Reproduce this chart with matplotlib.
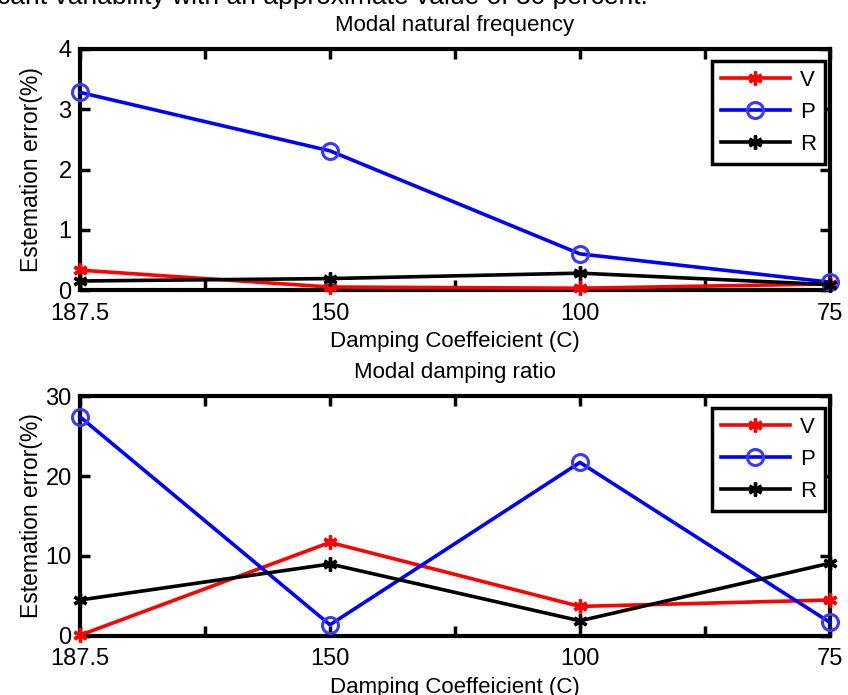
import matplotlib
matplotlib.use('Agg')
import matplotlib.pyplot as plt

plt.rcParams['font.family'] = ['Liberation Sans', 'DejaVu Sans']

# damping coefficients (x categories) and estimation errors in %
damping = ['187.5', '150', '100', '75']

freq_V = [0.33, 0.05, 0.03, 0.10]
freq_P = [3.28, 2.31, 0.60, 0.13]
freq_R = [0.15, 0.19, 0.28, 0.09]

damp_V = [0.1, 11.7, 3.7, 4.5]
damp_P = [27.4, 1.4, 21.7, 1.7]
damp_R = [4.5, 9.0, 1.9, 9.1]

FS = 16
asterisk = (6, 2, 0)


def draw_panel(ax, v, p, r, title, ymax, ystep):
    x = list(range(1, len(damping) + 1))
    ax.plot(x, v, color='red', lw=2.6, marker=asterisk, ms=10, mew=2.4,
            label='V', clip_on=False, zorder=5)
    ax.plot(x, p, color='blue', lw=2.6, marker='o', ms=11.5, mew=2.2,
            mfc='none', mec='#3a3aff', label='P', clip_on=False, zorder=5)
    ax.plot(x, r, color='black', lw=2.6, marker=asterisk, ms=10, mew=2.4,
            label='R', clip_on=False, zorder=5)

    ax.set_xlim(1, len(damping))
    ax.set_ylim(0, ymax)
    # ticks every half step, labels only on the data points
    xt = [1 + 0.5 * i for i in range(2 * len(damping) - 1)]
    ax.set_xticks(xt)
    ax.set_xticklabels([damping[i // 2] if i % 2 == 0 else '' for i in range(len(xt))])
    ax.set_yticks(range(0, ymax + 1, ystep))
    ax.tick_params(direction='in', length=7, width=2.5, top=True, right=True,
                   labelsize=17)
    ax.tick_params(axis='x', pad=9)
    ax.tick_params(axis='y', pad=6)
    for s in ax.spines.values():
        s.set_linewidth(3)

    ax.set_title(title, fontsize=FS, pad=13)
    ax.set_xlabel('Damping Coeffeicient (C)', fontsize=FS, labelpad=5)
    ax.set_ylabel('Estemation error(%)', fontsize=16.5)
    ax.yaxis.set_label_coords(-0.049, 0.5)

    leg = ax.legend(loc='upper right', bbox_to_anchor=(0.9933, 0.95),
                    fontsize=FS, handlelength=3.1, borderaxespad=0,
                    borderpad=0.4, labelspacing=0.5, handletextpad=0.45,
                    fancybox=False, framealpha=1)
    leg.get_frame().set_edgecolor('black')
    leg.get_frame().set_linewidth(2.5)


fig = plt.figure(figsize=(8.48, 6.95), dpi=100)
fig.text(-0.003, 0.9942, 'cant variability with an approximate value of 30 percent.',
         fontsize=19, va='baseline', ha='left')

ax1 = fig.add_axes([0.0943, 0.5827, 0.8844, 0.3468])
ax2 = fig.add_axes([0.0943, 0.0849, 0.8844, 0.3453])

draw_panel(ax1, freq_V, freq_P, freq_R, 'Modal natural frequency', 4, 1)
draw_panel(ax2, damp_V, damp_P, damp_R, 'Modal damping ratio', 30, 10)

fig.savefig('out.png', dpi=100)
